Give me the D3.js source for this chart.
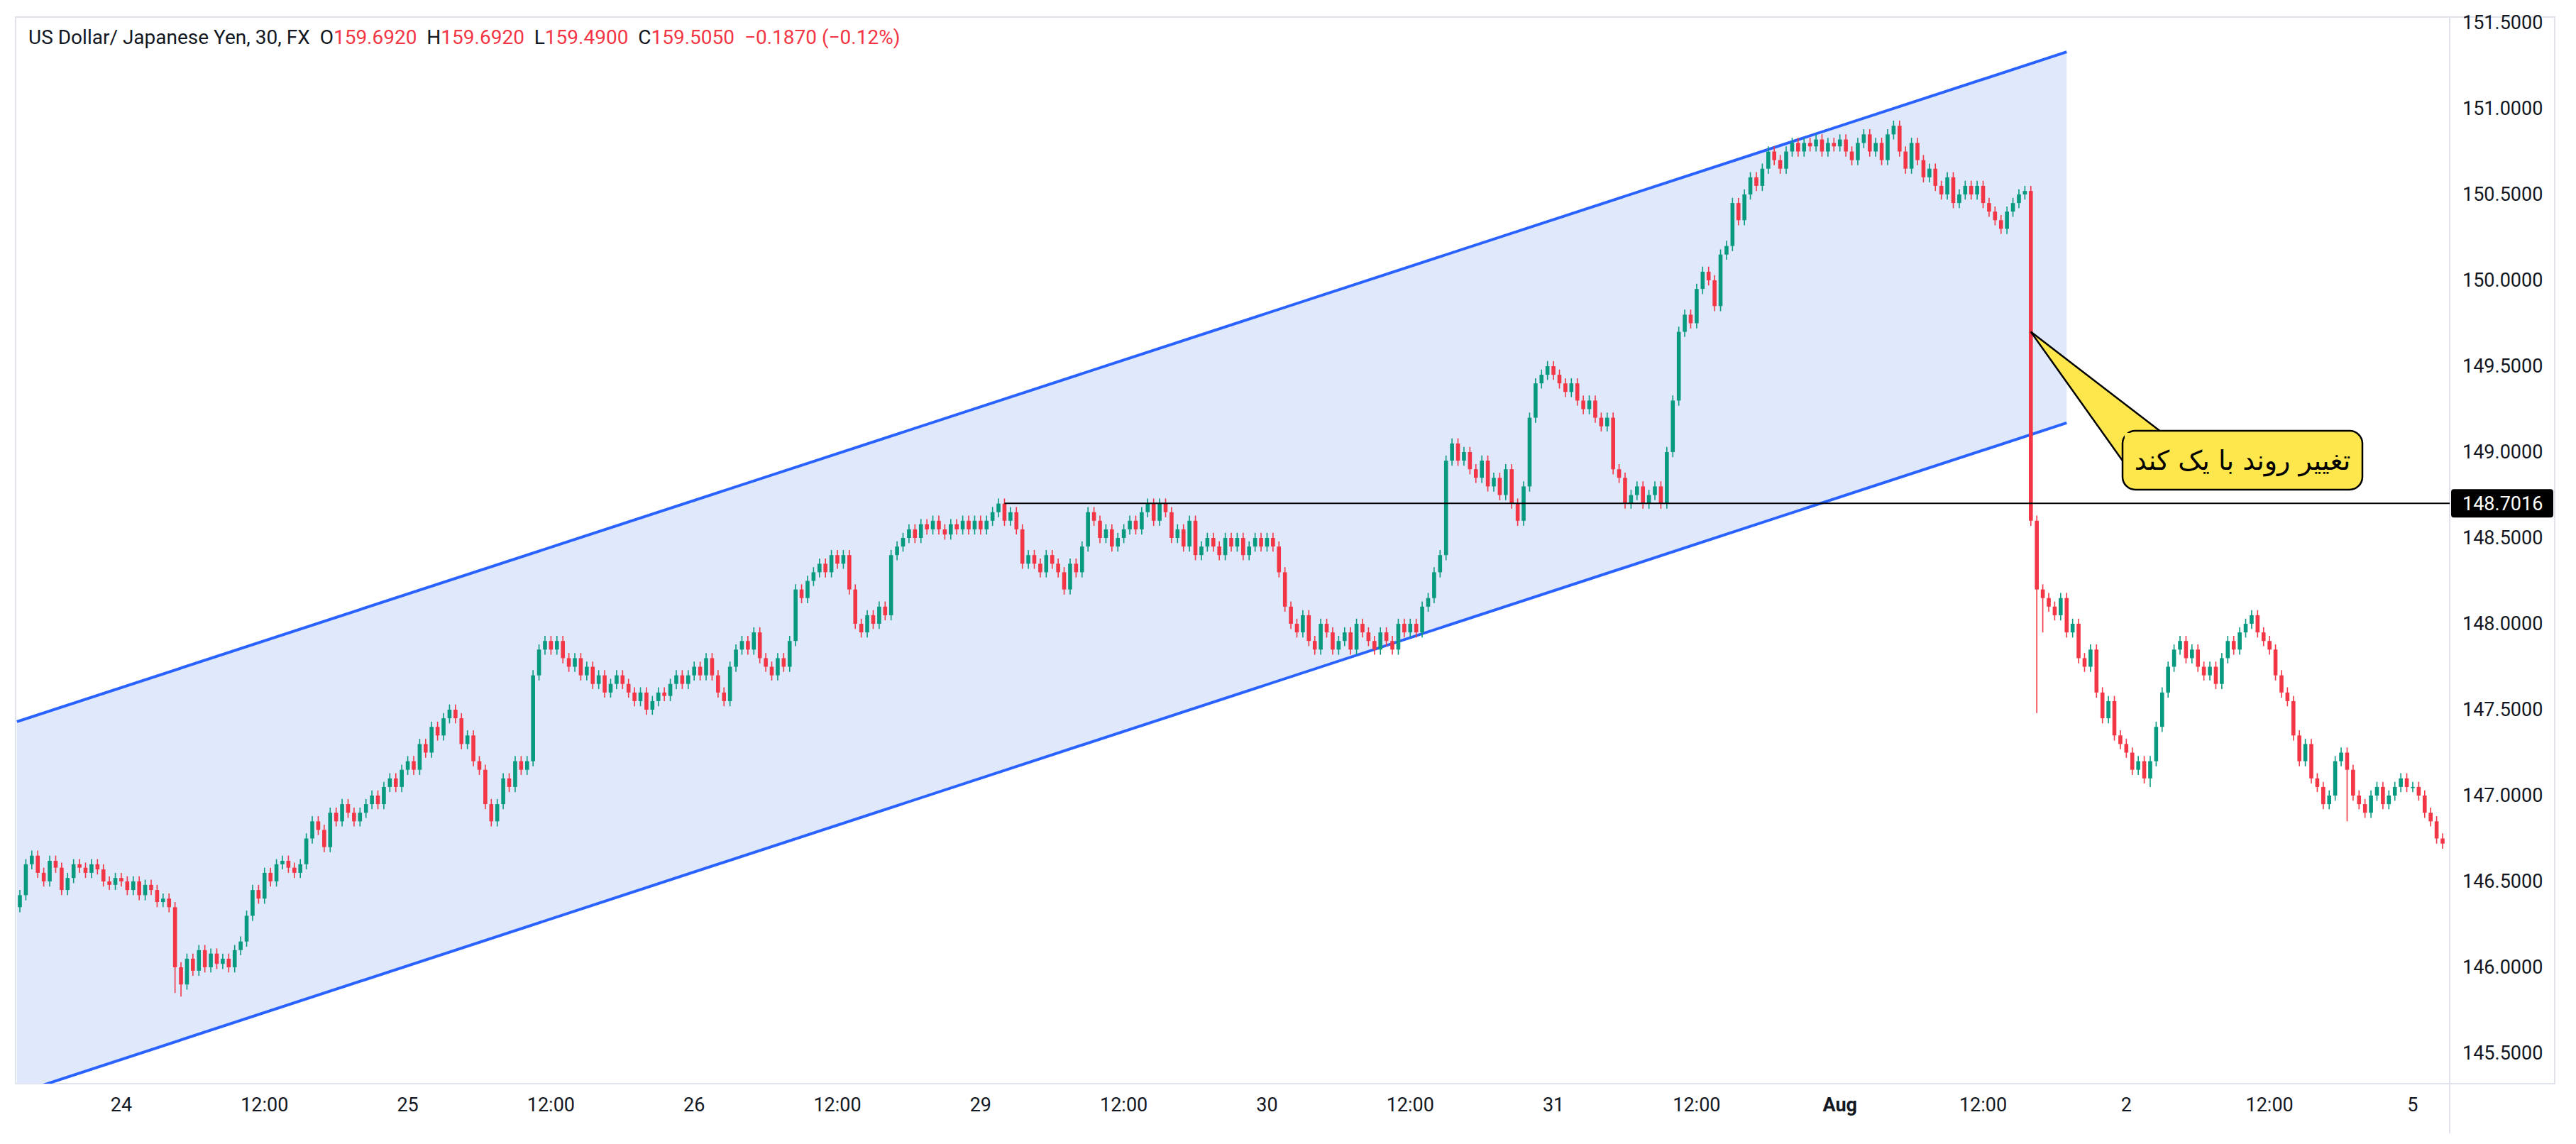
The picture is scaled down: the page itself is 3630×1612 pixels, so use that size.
<!DOCTYPE html>
<html><head><meta charset="utf-8">
<script src="https://cdn.jsdelivr.net/npm/d3@7"></script>
<style>body{margin:0;background:#fff}svg{display:block}</style></head>
<body><svg id="c" width="3630" height="1612"></svg>
<script>
const jul23=[146.42,146.6,146.65,146.55,146.5,146.62,146.58,146.45,146.52,146.6,146.58,146.55,146.6,146.57,146.5,146.48,146.52];
const jul24=[146.5,146.45,146.5,146.42,146.48,146.45,146.38,146.4,146.35,146.0,145.9,146.05,145.98,146.1,146.0,146.08,146.02,146.05,146.0,146.1,146.15,146.3,146.45,146.4,146.55,146.5,146.6,146.62,146.58,146.55,146.6,146.75,146.85,146.8,146.7,146.9,146.85,146.95,146.9,146.85,146.9,146.95,147.0,146.95,147.05,147.1,147.05,147.15];
const jul25=[147.2,147.15,147.3,147.25,147.4,147.35,147.45,147.5,147.45,147.3,147.35,147.2,147.15,146.95,146.85,146.95,147.1,147.05,147.2,147.15,147.2,147.7,147.85,147.9,147.85,147.9,147.8,147.75,147.8,147.7,147.75,147.65,147.7,147.6,147.65,147.7,147.65,147.6,147.55,147.6,147.5,147.55,147.6,147.58,147.65,147.7,147.65,147.7];
const jul26=[147.75,147.7,147.8,147.7,147.6,147.55,147.75,147.85,147.9,147.85,147.95,147.8,147.75,147.7,147.8,147.75,147.9,148.2,148.15,148.25,148.3,148.35,148.3,148.4,148.35,148.4,148.2,148.0,147.95,148.05,148.0,148.1,148.05,148.4,148.45,148.5,148.55,148.5,148.58,148.55,148.6,148.55,148.52,148.58,148.55,148.6,148.55,148.6];
const jul29=[148.55,148.6,148.65,148.7,148.6,148.65,148.55,148.35,148.4,148.35,148.3,148.4,148.35,148.3,148.2,148.35,148.3,148.45,148.65,148.6,148.5,148.55,148.45,148.5,148.55,148.6,148.55,148.65,148.7,148.6,148.7,148.65,148.5,148.55,148.45,148.6,148.4,148.45,148.5,148.45,148.4,148.5,148.45,148.5,148.4,148.45,148.5,148.45];
const jul30=[148.5,148.45,148.3,148.1,148.0,147.95,148.05,147.9,147.85,148.0,147.95,147.85,147.9,147.95,147.85,148.0,147.95,147.9,147.85,147.95,147.9,147.85,148.0,147.95,148.0,147.95,148.1,148.15,148.3,148.4,148.95,149.05,148.95,149.0,148.9,148.85,148.95,148.8,148.85,148.75,148.9,148.7,148.6,148.8,149.2,149.4,149.45,149.5];
const jul31=[149.45,149.4,149.35,149.4,149.3,149.25,149.3,149.2,149.15,149.2,148.9,148.85,148.7,148.75,148.8,148.7,148.75,148.8,148.7,149.0,149.3,149.7,149.8,149.75,149.95,150.05,150.0,149.85,150.15,150.2,150.45,150.35,150.5,150.6,150.55,150.65,150.75,150.7,150.65,150.75,150.8,150.75,150.8,150.78,150.82,150.75,150.8,150.78];
const aug1=[150.82,150.75,150.7,150.8,150.85,150.75,150.8,150.7,150.85,150.9,150.75,150.65,150.8,150.7,150.6,150.65,150.55,150.5,150.6,150.45,150.5,150.55,150.5,150.55,150.45,150.4,150.35,150.3,150.4,150.45,150.5,150.52,148.6,148.2,148.15,148.1,148.05,148.15,147.95,148.0,147.8,147.75,147.85,147.6,147.45,147.55,147.35,147.3];
const aug2=[147.25,147.15,147.2,147.1,147.2,147.4,147.6,147.75,147.85,147.9,147.8,147.85,147.75,147.7,147.75,147.65,147.8,147.9,147.85,147.95,148.0,148.05,147.95,147.9,147.85,147.7,147.6,147.55,147.35,147.2,147.3,147.1,147.05,146.95,147.0,147.2,147.25,147.15,147.0,146.95,146.9,147.0,147.05,146.95,147.0,147.05,147.1,147.05];
const aug5=[147.05,147.0,146.9,146.85,146.75,146.72];
const firstOpen=146.35;
const longWickIdx=[26,27,338,339,357,390];
const longWickLow=[145.85,145.83,147.48,147.95,147.05,146.85];
const dayTicks=[17,41,65,89,113,137,161,185,209,233,257,281,305,329,353,377,401];
const dayLabels=["24","12:00","25","12:00","26","12:00","29","12:00","30","12:00","31","12:00","Aug","12:00","2","12:00","5"];
const priceTicks=[145.5,146,146.5,147,147.5,148,148.5,149,149.5,150,150.5,151,151.5];
const channelUpper=[[-0.5,147.43],[343,151.33]];
const channelLower=[[4.4,145.32],[343,149.17]];
const levelStart=165, levelPrice=148.7016;

const closes=[].concat(jul23,jul24,jul25,jul26,jul29,jul30,jul31,aug1,aug2,aug5);
const candles=closes.map((c,i)=>{const o=i?closes[i-1]:firstOpen;let h=Math.max(o,c)+0.03,l=Math.min(o,c)-0.03;const k=longWickIdx.indexOf(i);if(k>=0)l=longWickLow[k];return{i,o,c,h,l};});

const svg=d3.select("#c");
const L=22,R=3452,T=24,B=1527;
const x=d3.scaleLinear().domain([0,closes.length-1]).range([28,3442]);
const y=d3.scaleLinear().domain([145.5,151.5]).range([1484,32]);
svg.append("defs").append("clipPath").attr("id","cp").append("rect").attr("x",L).attr("y",T).attr("width",R-L).attr("height",B-T);
svg.append("rect").attr("x",L).attr("y",T).attr("width",3600-L).attr("height",B-T).attr("fill","none").attr("stroke","#e0e3eb").attr("stroke-width",2);
svg.append("line").attr("x1",R).attr("x2",R).attr("y1",T).attr("y2",B+70).attr("stroke","#e0e3eb").attr("stroke-width",2);
svg.append("line").attr("x1",L).attr("x2",3600).attr("y1",B).attr("y2",B).attr("stroke","#e0e3eb").attr("stroke-width",2);
const g=svg.append("g").attr("clip-path","url(#cp)");
const ext=(p0,p1,i)=>p0[1]+(p1[1]-p0[1])*(i-p0[0])/(p1[0]-p0[0]);
const i0=-0.5,i1=343;
g.append("path").attr("d",`M${x(i0)},${y(ext(...channelUpper,i0))}L${x(i1)},${y(ext(...channelUpper,i1))}L${x(i1)},${y(ext(...channelLower,i1))}L${x(i0)},${y(ext(...channelLower,i0))}Z`).attr("fill","#e0e9fc");
[channelUpper,channelLower].forEach(ch=>g.append("line").attr("x1",x(i0)).attr("y1",y(ext(...ch,i0))).attr("x2",x(i1)).attr("y2",y(ext(...ch,i1))).attr("stroke","#2962ff").attr("stroke-width",4));
svg.append("line").attr("x1",x(levelStart)).attr("x2",R).attr("y1",y(levelPrice)).attr("y2",y(levelPrice)).attr("stroke","#000").attr("stroke-width",2);
const cg=g.append("g");
candles.forEach(d=>{const col=d.c>=d.o?"#089981":"#f23645";const cx=x(d.i);
 cg.append("line").attr("x1",cx).attr("x2",cx).attr("y1",y(d.h)).attr("y2",y(d.l)).attr("stroke",col).attr("stroke-width",1.6);
 const t=y(Math.max(d.o,d.c)),b=y(Math.min(d.o,d.c));
 cg.append("rect").attr("x",cx-2.8).attr("width",5.6).attr("y",t).attr("height",Math.max(1.5,b-t)).attr("fill",col);});
priceTicks.forEach(p=>svg.append("text").attr("x",3470).attr("y",y(p)+9).attr("font-family","Roboto").attr("font-size",27).attr("fill","#131722").text(p.toFixed(4)));
svg.append("rect").attr("x",R+2).attr("y",y(levelPrice)-20).attr("width",144).attr("height",40).attr("rx",4).attr("fill","#000");
svg.append("text").attr("x",3470).attr("y",y(levelPrice)+10).attr("font-family","Roboto").attr("font-size",27).attr("fill","#fff").text(levelPrice.toFixed(4));
dayTicks.forEach((t,k)=>svg.append("text").attr("x",x(t)).attr("y",1566).attr("text-anchor","middle").attr("font-family","Roboto").attr("font-size",27).attr("font-weight",dayLabels[k]==="Aug"?"bold":"normal").attr("fill","#131722").text(dayLabels[k]));
const ht=svg.append("text").attr("x",40).attr("y",62).attr("font-family","Roboto").attr("font-size",28).attr("fill","#131722").attr("xml:space","preserve");
ht.append("tspan").text("US Dollar/ Japanese Yen, 30, FX  O");
[["159.6920","  H"],["159.6920","  L"],["159.4900","  C"],["159.5050","  "],["−0.1870 (−0.12%)",""]].forEach(([v,n])=>{ht.append("tspan").attr("fill","#f23645").text(v);if(n)ht.append("tspan").attr("fill","#131722").text(n);});
const bx=2991,by=607,bw=338,bh=83;
svg.append("path").attr("d",`M${x(337)},${y(149.7)}L${bx+55},${by+2}L${bx+2},${by+45}Z`).attr("fill","#fde74c").attr("stroke","#000").attr("stroke-width",2.5);
svg.append("rect").attr("x",bx).attr("y",by).attr("width",bw).attr("height",bh).attr("rx",18).attr("fill","#fde74c").attr("stroke","#000").attr("stroke-width",2.5);
svg.append("rect").attr("x",bx+3).attr("y",by+3).attr("width",70).attr("height",40).attr("fill","#fde74c");
svg.append("text").attr("x",bx+bw/2).attr("y",by+bh/2+13).attr("text-anchor","middle").attr("font-family","DejaVu Sans").attr("font-size",38).attr("fill","#000").attr("direction","rtl").text("تغییر روند با یک کند");
</script></body></html>
